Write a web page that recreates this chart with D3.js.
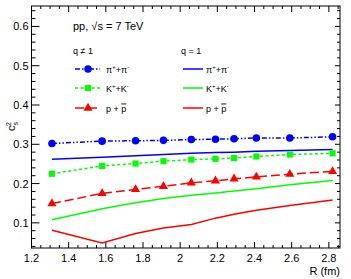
<!DOCTYPE html>
<html>
<head>
<meta charset="utf-8">
<script src="https://d3js.org/d3.v7.min.js"></script>
<style>
  body { margin: 0; background: #fff; }
  text { font-family: "Liberation Sans", Arial, sans-serif; fill: #000; }
</style>
</head>
<body>
<svg id="chart" width="351" height="279"></svg>
<script>
// radius R (fm) of each point
var radius = [1.31, 1.58, 1.76, 1.91, 2.06, 2.19, 2.29, 2.41, 2.59, 2.82];

// q != 1 (markers)
var piQ  = [0.302, 0.308, 0.309, 0.310, 0.312, 0.313, 0.314, 0.316, 0.316, 0.319];
var kQ   = [0.225, 0.245, 0.251, 0.257, 0.261, 0.263, 0.265, 0.269, 0.274, 0.277];
var pQ   = [0.149, 0.175, 0.185, 0.193, 0.202, 0.207, 0.212, 0.217, 0.224, 0.231];

// q = 1 (solid lines)
var pi1  = [0.262, 0.267, 0.271, 0.274, 0.277, 0.279, 0.280, 0.282, 0.284, 0.287];
var k1   = [0.108, 0.136, 0.151, 0.162, 0.170, 0.176, 0.181, 0.187, 0.197, 0.208];
var p1   = [0.081, 0.049, 0.073, 0.087, 0.096, 0.112, 0.122, 0.132, 0.144, 0.158];

var xTicks = [1.2, 1.4, 1.6, 1.8, 2, 2.2, 2.4, 2.6, 2.8];
var yTicks = [0.1, 0.2, 0.3, 0.4, 0.5, 0.6];

var svg = d3.select("#chart"),
    margin = {top: 6, right: 11, bottom: 31, left: 31.5},
    width = +svg.attr("width"),
    height = +svg.attr("height");

var x = d3.scaleLinear()
    .domain([1.2, 2.86])
    .range([margin.left, width - margin.right]);

var y = d3.scaleLinear()
    .domain([0.036, 0.652])
    .range([height - margin.bottom, margin.top]);

var x0 = margin.left, x1 = width - margin.right,
    y0 = height - margin.bottom, y1 = margin.top;

// minor ticks
var xMinor = d3.range(1.2, 2.86, 0.05).filter(v => Math.abs(v * 5 - Math.round(v * 5)) > 1e-6);
var yMinor = d3.range(0.04, 0.652, 0.02).filter(v => Math.abs(v * 10 - Math.round(v * 10)) > 1e-6);

var axes = svg.append("g").attr("stroke", "#000").attr("stroke-width", 1);

// frame
axes.append("rect")
    .attr("x", x0).attr("y", y1)
    .attr("width", x1 - x0).attr("height", y0 - y1)
    .attr("fill", "none");

// ticks on the four sides, pointing inward
function tick(g, list, len, side) {
    g.selectAll(null).data(list).enter().append("line")
        .attr("x1", d => side == "b" || side == "t" ? x(d) : (side == "l" ? x0 : x1))
        .attr("x2", d => side == "b" || side == "t" ? x(d) : (side == "l" ? x0 + len : x1 - len))
        .attr("y1", d => side == "l" || side == "r" ? y(d) : (side == "b" ? y0 : y1))
        .attr("y2", d => side == "l" || side == "r" ? y(d) : (side == "b" ? y0 - len : y1 + len));
}
tick(axes, xTicks, 6, "b");
tick(axes, xMinor, 3, "b");
tick(axes, xTicks, 6, "t");
tick(axes, xMinor, 3, "t");
tick(axes, yTicks, 8, "l");
tick(axes, yMinor, 4, "l");
tick(axes, yTicks, 5, "r");
tick(axes, yMinor, 3, "r");

// tick labels
svg.append("g").selectAll("text").data(xTicks).enter().append("text")
    .attr("x", d => x(d)).attr("y", y0 + 14)
    .attr("text-anchor", "middle")
    .attr("font-size", 11)
    .text(d => d3.format(".1f")(d).replace(/\.0$/, ""));

svg.append("g").selectAll("text").data(yTicks).enter().append("text")
    .attr("x", x0 - 3).attr("y", d => y(d) + 4)
    .attr("text-anchor", "end")
    .attr("font-size", 11)
    .text(d => d3.format(".1f")(d));

// axis titles
svg.append("text")
    .attr("x", x1).attr("y", height - 4)
    .attr("text-anchor", "end")
    .attr("font-size", 11)
    .text("R (fm)");

var yt = svg.append("text")
    .attr("transform", "translate(15,131) rotate(-90)")
    .attr("font-size", 11);
yt.append("tspan").text("c");
yt.append("tspan").attr("font-size", 7).attr("dy", 3).text("s");
yt.append("tspan").attr("font-size", 7).attr("dx", -4).attr("dy", -7).text("2");

// series
var series = [
    {name: "pi", vals: piQ, color: "#0000ff", dash: "5,2,1.5,2,1.5,2", marker: "circle"},
    {name: "k",  vals: kQ,  color: "#00ff00", dash: "3,2.5", marker: "square"},
    {name: "p",  vals: pQ,  color: "#ff0000", dash: "9,4", marker: "triangle"}
];
var solids = [
    {vals: pi1, color: "#0000ff"},
    {vals: k1,  color: "#00ff00"},
    {vals: p1,  color: "#ff0000"}
];

var line = d3.line()
    .x((d, i) => x(radius[i]))
    .y(d => y(d));

solids.forEach(function (s) {
    svg.append("path")
        .attr("d", line(s.vals))
        .attr("fill", "none")
        .attr("stroke", s.color)
        .attr("stroke-width", 1.5);
});

var symbols = {
    circle: d3.symbol().type(d3.symbolCircle).size(45),
    square: d3.symbol().type(d3.symbolSquare).size(38),
    triangle: d3.symbol().type(d3.symbolTriangle).size(36)
};

series.forEach(function (s) {
    svg.append("path")
        .attr("d", line(s.vals))
        .attr("fill", "none")
        .attr("stroke", s.color)
        .attr("stroke-width", 1.5)
        .attr("stroke-dasharray", s.dash);
    svg.append("g").selectAll("path").data(s.vals).enter().append("path")
        .attr("d", symbols[s.marker])
        .attr("transform", (d, i) => "translate(" + x(radius[i]) + "," + y(d) + ")")
        .attr("fill", s.color);
});

// header + legend
svg.append("text")
    .attr("x", 73).attr("y", 30)
    .attr("font-size", 11)
    .html("pp, \u221As = 7 TeV");

svg.append("text").attr("x", 73).attr("y", 54).attr("font-size", 9).text("q \u2260 1");
svg.append("text").attr("x", 181).attr("y", 54).attr("font-size", 9).text("q = 1");

var legY = [69, 88, 108];
var labels = [
    [["\u03C0", ""], ["+", "sup"], ["+\u03C0", ""], ["-", "sup"]],
    [["K", ""], ["+", "sup"], ["+K", ""], ["-", "sup"]],
    [["p + ", ""], ["p", "bar"]]
];

function label(xp, yp, parts) {
    var t = svg.append("text").attr("x", xp).attr("y", yp + 3.5).attr("font-size", 9);
    var sup = false;
    parts.forEach(function (p) {
        var ts = t.append("tspan").text(p[0]);
        if (p[1] == "sup") { ts.attr("font-size", 6).attr("dy", -4); sup = true; }
        else if (sup) { ts.attr("dy", 4); sup = false; }
        if (p[1] == "bar") ts.attr("text-decoration", "overline");
    });
}

series.forEach(function (s, i) {
    svg.append("line")
        .attr("x1", 75).attr("x2", 100)
        .attr("y1", legY[i]).attr("y2", legY[i])
        .attr("stroke", s.color).attr("stroke-width", 1.5)
        .attr("stroke-dasharray", s.dash);
    svg.append("path")
        .attr("d", symbols[s.marker])
        .attr("transform", "translate(88," + legY[i] + ")")
        .attr("fill", s.color);
    label(106, legY[i], labels[i]);
});

solids.forEach(function (s, i) {
    svg.append("line")
        .attr("x1", 183).attr("x2", 203)
        .attr("y1", legY[i]).attr("y2", legY[i])
        .attr("stroke", s.color).attr("stroke-width", 1.5);
    label(206, legY[i], labels[i]);
});
</script>
</body>
</html>
